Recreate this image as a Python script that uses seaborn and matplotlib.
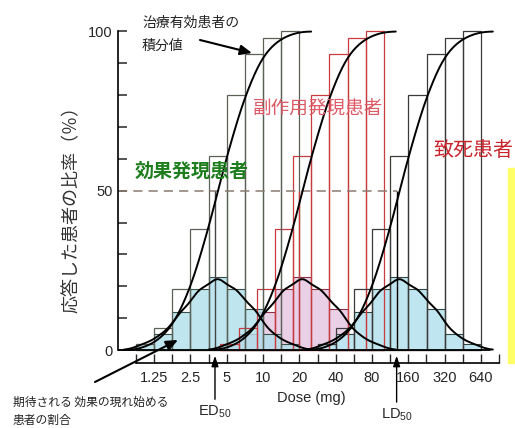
import numpy as np
import pandas as pd
import seaborn as sns
import matplotlib.pyplot as plt
from matplotlib.patches import Rectangle

# dose axis labels (mg), doubling steps
dose_ticks = [1.25, 2.5, 5, 10, 20, 40, 80, 160, 320, 640]

# % of patients responding in each half-doubling dose bin
effect_pct = [2, 5, 12, 19, 23, 19, 13, 5, 2]
side_pct = [2, 5, 12, 19, 23, 19, 13, 5, 2]
lethal_pct = [2, 5, 12, 19, 23, 19, 13, 5, 2]

# low edge (mg) of the first bin of each group
effect_start = 0.884
side_start = 4.44
lethal_start = 28.3

# median doses (mg)
ed50 = 4
td50 = 20
ld50 = 128

sns.set_style('ticks')
plt.rcParams['font.family'] = ['Liberation Sans', 'Noto Sans CJK JP']
plt.rcParams['mathtext.default'] = 'regular'
jp = ['Noto Sans CJK JP', 'DejaVu Sans']

W, H = 515, 428
fig = plt.figure(figsize=(W / 100, H / 100), dpi=100)
ax = fig.add_axes([118 / W, 65 / H, 387 / W, 334 / H])
ylo, yhi = -4.08, 100.75


def log_bins(start, pct):
    edges = np.log2(start) + 0.5 * np.arange(len(pct) + 1)
    df = pd.DataFrame({'logdose': edges[:-1] + 0.25, 'pct': pct})
    return edges.tolist(), df


groups = [
    # values, start, fill, bar edge, cumulative edge, alpha
    (side_pct, side_start, '#ead0e6', '#8c3048', '#c83c40', 1.0),
    (effect_pct, effect_start, '#afe0ec', '#3c4c46', '#5a6258', 0.8),
    (lethal_pct, lethal_start, '#bfe6f0', '#34443f', '#3a3a3a', 1.0),
]

# frequency histograms
for pct, start, fill, edge, cum_edge, a in groups:
    edges, df = log_bins(start, pct)
    sns.histplot(data=df, x='logdose', weights='pct', bins=edges, stat='count',
                 color=fill, edgecolor=edge, linewidth=0.8, alpha=a, ax=ax)

# cumulative step boxes
for pct, start, fill, edge, cum_edge, a in groups:
    edges, df = log_bins(start, pct)
    sns.histplot(data=df, x='logdose', weights='pct', bins=edges, stat='count',
                 cumulative=True, fill=False, color=cum_edge,
                 linewidth=0.9, ax=ax)

# smooth curves: bell = % per bin, sigmoid = cumulative %
axb = ax.twinx()
axc = ax.twinx()
for pct, start, *_ in groups:
    edges, df = log_bins(start, pct)
    sns.kdeplot(data=df, x='logdose', weights='pct', bw_method=0.28, cut=1.5,
                color='black', linewidth=1.4, ax=axb)
    sns.kdeplot(data=df, x='logdose', weights='pct', bw_method=0.28, cut=1.5,
                cumulative=True, color='black', linewidth=1.4, ax=axc)
axb.set_ylim(ylo / 50, yhi / 50)
axc.set_ylim(ylo / 100, yhi / 100)
axb.axis('off')
axc.axis('off')

# axes
xl = np.log2(dose_ticks[0]) - 36 / 36.3
xr = np.log2(dose_ticks[-1]) + 24 / 36.3
ax.set_xlim(xl, xr)
ax.set_ylim(ylo, yhi)

ax.hlines(50, xl, np.log2(ld50), colors='#8a7a70', linestyles=(0, (6, 4)), lw=1.1)
ax.vlines(np.log2(ed50), 0, 50, colors='#444444', lw=1.0)
ax.vlines(np.log2(td50), 0, 50, colors='#c83c40', lw=1.0)
ax.vlines(np.log2(ld50), 0, 50, colors='black', lw=1.0)
ax.axhline(0, xmin=0, xmax=0.961, color='black', lw=1.3)

major = np.log2(dose_ticks)
minor = np.log2(dose_ticks[0]) - 0.5 + 0.5 * np.arange(2 * len(dose_ticks) + 1)
ax.set_xticks(major)
ax.set_xticklabels([f'{d:g}' for d in dose_ticks])
ax.set_xticks(minor, minor=True)
ax.set_yticks([0, 50, 100])
ax.set_yticks(np.arange(0, 101, 10), minor=True)
ax.tick_params(axis='x', which='both', direction='in', length=6.5, width=1.0,
               pad=6, labelsize=10.5)
ax.tick_params(axis='y', which='both', direction='in', length=6.5, width=1.1,
               pad=4, labelsize=10.5)

for s in ['top', 'right']:
    ax.spines[s].set_visible(False)
ax.spines['left'].set_bounds(0, 100)
ax.spines['bottom'].set_bounds(minor[0], minor[-1])
ax.spines['left'].set_linewidth(1.2)
ax.spines['bottom'].set_linewidth(1.2)
ax.spines['left'].set_color('black')
ax.spines['bottom'].set_color('black')

ax.set_xlabel('Dose (mg)', fontsize=10.5, va='center')
ax.xaxis.set_label_coords(0.5, -0.105)
ax.set_ylabel('応答した患者の比率（％）', fontsize=13, family=jp,
              color='#333333', va='center', ha='center')
ax.yaxis.set_label_coords(-0.119, 0.473)

# ED50 / LD50 arrows
for val, name, ytxt in [(ed50, 'ED', -19.5), (ld50, 'LD', -20.4)]:
    ax.annotate(name + '$_{50}$', xy=(np.log2(val), -1.8),
                xytext=(np.log2(val), ytxt), ha='center', va='center',
                fontsize=10.5, annotation_clip=False,
                arrowprops=dict(arrowstyle='-|>,head_length=0.6,head_width=0.2',
                                color='black', lw=1.0, shrinkA=1, shrinkB=0))


# Japanese labels
def ftext(x, y, s, **kw):
    fig.text(x / W, 1 - y / H, s, va='center', ha='left', family=jp, **kw)


ftext(142, 23, '治療有効患者の', fontsize=10, color='#222222')
ftext(142, 46, '積分値', fontsize=10, color='#222222')
ftext(253, 110, '副作用発現患者', fontsize=13.4, color='#dd5a66')
ftext(433, 150, '致死患者', fontsize=14.4, color='#c8242c')
ftext(135, 171, '効果発現患者', fontsize=13.7, color='#1e7e1e', weight='bold')
ftext(13, 402, '期待される 効果の現れ始める', fontsize=8.5, color='#222222')
ftext(13, 420, '患者の割合', fontsize=8.5, color='#222222')

arrow = dict(arrowstyle='-|>,head_length=0.7,head_width=0.3', color='black',
             lw=1.5, shrinkA=0, shrinkB=0)
ax.annotate('', xy=(252, H - 53), xytext=(200, H - 40),
            xycoords='figure pixels', textcoords='figure pixels', arrowprops=arrow)
ax.annotate('', xy=(178, H - 340), xytext=(95, H - 382),
            xycoords='figure pixels', textcoords='figure pixels', arrowprops=arrow)

# yellow marker strip on the right edge
fig.patches.append(Rectangle((508 / W, 1 - 363 / H), 7 / W, 195 / H,
                             transform=fig.transFigure, color='#ffff66'))

fig.savefig('out.png', dpi=100)
